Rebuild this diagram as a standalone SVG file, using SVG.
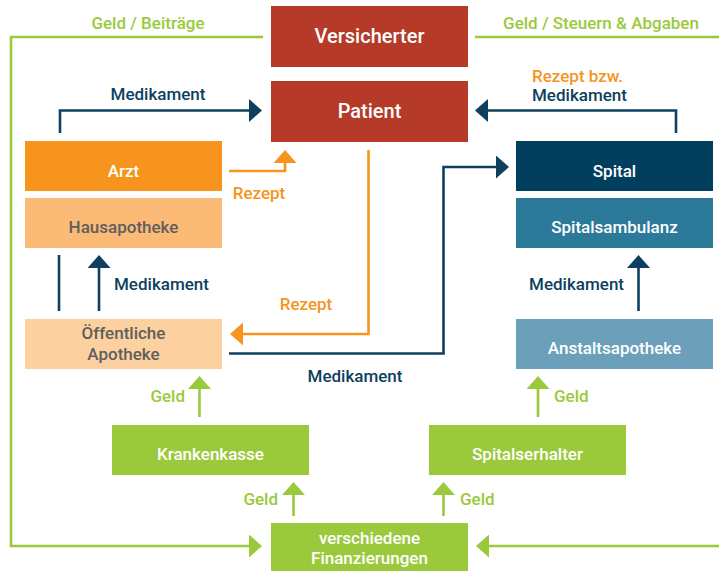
<svg xmlns="http://www.w3.org/2000/svg" width="719" height="571" viewBox="0 0 719 571">
<style>
text{font-family:Roboto,"Liberation Sans",sans-serif;font-weight:500}
.box{font-size:17px;fill:#fff;text-anchor:middle}
.big{font-size:20px}
.gray{fill:#5e5e5e}
.lbl{font-size:17px}
.c{text-anchor:middle}
.e{text-anchor:end}
.tg{fill:#9aca3c}
.to{fill:#f7941d}
.td{fill:#0e3f5e}
.ln{fill:none;stroke-width:2.6}
.g{stroke:#9aca3c;marker-end:url(#mg)}
.o{stroke:#f7941d;marker-end:url(#mo)}
.d{stroke:#0e3f5e;marker-end:url(#md)}
.nm{marker-end:none}
</style>
<defs>
<marker id="mg" viewBox="0 0 13 23" refX="0" refY="11.5" markerWidth="13" markerHeight="23" markerUnits="userSpaceOnUse" orient="auto"><path d="M0,0L13,11.5L0,23Z" fill="#9aca3c"/></marker>
<marker id="mo" viewBox="0 0 13 23" refX="0" refY="11.5" markerWidth="13" markerHeight="23" markerUnits="userSpaceOnUse" orient="auto"><path d="M0,0L13,11.5L0,23Z" fill="#f7941d"/></marker>
<marker id="md" viewBox="0 0 13 23" refX="0" refY="11.5" markerWidth="13" markerHeight="23" markerUnits="userSpaceOnUse" orient="auto"><path d="M0,0L13,11.5L0,23Z" fill="#0e3f5e"/></marker>
</defs>
<rect width="719" height="571" fill="#fff"/>
<g id="connectors">
<path class="ln g" d="M263,37H11V546H249"/>
<path class="ln g" d="M475,37H723V546H489"/>
<path class="ln d" d="M60,133V110.5H249"/>
<path class="ln o" d="M229,171H285V163"/>
<path class="ln d nm" d="M59,255V311"/>
<path class="ln d" d="M99,311V268"/>
<path class="ln o" d="M368.5,150V334H243"/>
<path class="ln d" d="M229,353.5H443.5V167H496"/>
<path class="ln d" d="M676,133V110.5H488"/>
<path class="ln d" d="M638.5,311V268"/>
<path class="ln g" d="M199.5,417V389"/>
<path class="ln g" d="M538,417V389"/>
<path class="ln g" d="M293.5,516V495"/>
<path class="ln g" d="M443.5,516V495"/>
</g>
<g id="labels">
<text class="lbl tg c" x="148" y="29">Geld / Beiträge</text>
<text class="lbl tg c" x="601" y="29">Geld / Steuern &amp; Abgaben</text>
<text class="lbl td c" x="158" y="100">Medikament</text>
<text class="lbl to c" x="259" y="199">Rezept</text>
<text class="lbl td" x="114" y="290">Medikament</text>
<text class="lbl to c" x="306" y="310">Rezept</text>
<text class="lbl td c" x="355" y="382">Medikament</text>
<text class="lbl to" x="532" y="82">Rezept bzw.</text>
<text class="lbl td" x="532" y="101">Medikament</text>
<text class="lbl td e" x="624" y="290">Medikament</text>
<text class="lbl tg e" x="185" y="402">Geld</text>
<text class="lbl tg" x="554" y="402">Geld</text>
<text class="lbl tg e" x="278" y="505">Geld</text>
<text class="lbl tg" x="460" y="505">Geld</text>
</g>
<g id="versicherter"><rect x="271" y="6" width="197" height="61" fill="#b53a27"/><text class="box big" x="369.5" y="43">Versicherter</text></g>
<g id="patient"><rect x="271" y="81" width="197" height="61" fill="#b53a27"/><text class="box big" x="369.5" y="118">Patient</text></g>
<g id="arzt"><rect x="25" y="141" width="197" height="50" fill="#f7941d"/><text class="box" x="123.5" y="177">Arzt</text></g>
<g id="hausapotheke"><rect x="25" y="198" width="197" height="50" fill="#fbbb76"/><text class="box gray" x="123.5" y="233">Hausapotheke</text></g>
<g id="oeffentliche-apotheke"><rect x="25" y="319" width="197" height="50" fill="#fdd19f"/><text class="box gray" x="123.5" y="339">Öffentliche</text><text class="box gray" x="123.5" y="360">Apotheke</text></g>
<g id="spital"><rect x="516" y="141" width="197" height="50" fill="#023e5e"/><text class="box" x="614.5" y="177">Spital</text></g>
<g id="spitalsambulanz"><rect x="516" y="198" width="197" height="50" fill="#2c7a99"/><text class="box" x="614.5" y="233">Spitalsambulanz</text></g>
<g id="anstaltsapotheke"><rect x="516" y="319" width="197" height="50" fill="#6b9fba"/><text class="box" x="614.5" y="354">Anstaltsapotheke</text></g>
<g id="krankenkasse"><rect x="112" y="425" width="197" height="50" fill="#9aca3c"/><text class="box" x="210.5" y="460">Krankenkasse</text></g>
<g id="spitalserhalter"><rect x="429" y="425" width="197" height="50" fill="#9aca3c"/><text class="box" x="527.5" y="460">Spitalserhalter</text></g>
<g id="finanzierungen"><rect x="271" y="523" width="197" height="48" fill="#9aca3c"/><text class="box" x="369.5" y="544">verschiedene</text><text class="box" x="369.5" y="564">Finanzierungen</text></g>
</svg>
